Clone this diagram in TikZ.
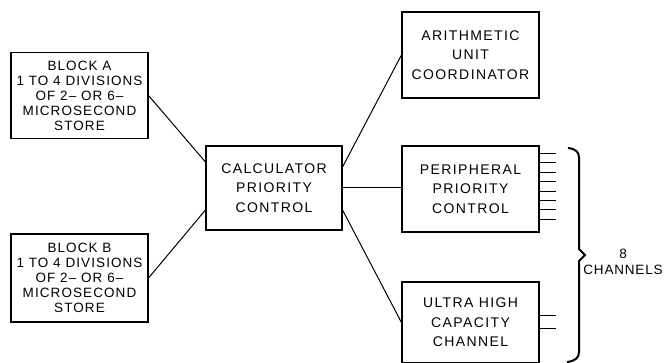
\documentclass[tikz,border=0pt]{standalone}
\usepackage{fontspec}
\setmainfont{Liberation Sans}
\newfontfamily\lbl[LetterSpace=10]{Liberation Sans}
\newfontfamily\lblk[LetterSpace=8]{Liberation Sans}
\newfontfamily\lblb[LetterSpace=6]{Liberation Sans}
\usetikzlibrary{calc}
\begin{document}
\begin{tikzpicture}[x=1pt,y=-1pt,
  box/.style={draw, line width=1.1pt, minimum width=137pt, minimum height=86pt, inner sep=0pt, align=center, font=\lbl\fontsize{14}{19.5}\selectfont},
  blk/.style={box, font=\lblk\fontsize{13.5}{15}\selectfont},
  conn/.style={line width=1pt},
  stub/.style={line width=1pt}]
\useasboundingbox (0,0) rectangle (667,363);
\node[blk] (A) at (79.5,95.5) {BLOCK A\\1 TO 4 DIVISIONS\\OF 2– OR 6–\\MICROSECOND\\STORE};
\node[blk, minimum height=88pt] (B) at (79.5,278) {BLOCK B\\1 TO 4 DIVISIONS\\OF 2– OR 6–\\MICROSECOND\\STORE};
\node[box, minimum width=136pt, minimum height=84pt] (calc) at (274,188) {CALCULATOR\\PRIORITY\\CONTROL};
\node[box] (arith) at (470.5,55) {ARITHMETIC\\UNIT\\COORDINATOR};
\node[box] (periph) at (470.5,189) {PERIPHERAL\\PRIORITY\\CONTROL};
\node[box, minimum height=81pt] (ultra) at (470.5,322.5) {ULTRA HIGH\\CAPACITY\\CHANNEL};
\draw[conn] (A.east) -- ([yshift=26pt]calc.west);
\draw[conn] (B.east) -- ([yshift=-22pt]calc.west);
\draw[conn] ([yshift=21pt]calc.east) -- (arith.west);
\draw[conn] (calc.east) -- (calc.east -| periph.west);
\draw[conn] ([yshift=-22pt]calc.east) -- (ultra.west);
\foreach \i in {0,...,7}
  \draw[stub] ($(periph.north east)+(0,8+9.4*\i)$) -- ++(16,0);
\foreach \o in {34,47}
  \draw[stub] ($(ultra.north east)+(0,\o)$) -- ++(16,0);
\draw[line width=2pt] (568,148) .. controls (576,149) and (579,152) .. (579,158) -- (579,249) -- (585,255) -- (579,261) -- (579,352) .. controls (579,358) and (575,361) .. (567,362);
\node[font=\lblb\fontsize{13.5}{16}\selectfont, align=center, inner sep=0pt] (ch) at (623,262) {8\\CHANNELS};
\end{tikzpicture}
\end{document}
